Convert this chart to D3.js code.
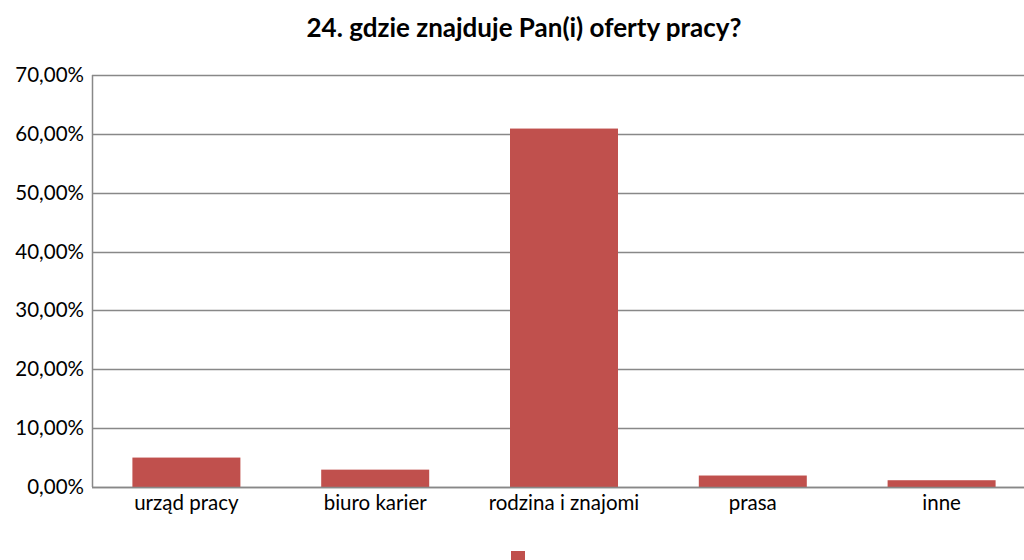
<!DOCTYPE html>
<head>
  <meta charset="utf-8">
  <script src="https://d3js.org/d3.v7.min.js"></script>
  <style>
    body { margin: 0; background: #fff; }
    text { font-family: 'Lato', 'Carlito', sans-serif; fill: #000; }
    .title { font-size: 26px; font-weight: bold; }
    .tick-label { font-size: 20.5px; }
  </style>
</head>
<body>
  <div id="chart"></div>
  <script>
    // data
    var categories = ["urząd pracy", "biuro karier", "rodzina i znajomi", "prasa", "inne"];
    var values = [5.0, 2.95, 60.9, 1.95, 1.15];
    var yTicks = [0, 10, 20, 30, 40, 50, 60, 70];
    var title = "24. gdzie znajduje Pan(i) oferty pracy?";

    var w = 1024, h = 560;
    var plotLeft = 92, plotRight = 1036, plotTop = 75, plotBottom = 487;

    var svg = d3.select("#chart")
      .append("svg")
      .attr("width", w)
      .attr("height", h);

    var x = d3.scaleBand()
      .domain(categories)
      .range([plotLeft, plotRight])
      .paddingInner(0.428)
      .paddingOuter(0.214);

    var y = d3.scaleLinear()
      .domain([0, 70])
      .range([plotBottom, plotTop]);

    // gridlines
    svg.append("g")
      .selectAll("line")
      .data(yTicks)
      .enter().append("line")
      .attr("x1", plotLeft)
      .attr("x2", plotRight)
      .attr("y1", function (d) { return Math.round(y(d)) + 0.5; })
      .attr("y2", function (d) { return Math.round(y(d)) + 0.5; })
      .attr("stroke", "#888")
      .attr("stroke-width", 1.5);

    // y axis line
    svg.append("line")
      .attr("x1", plotLeft + 0.5).attr("x2", plotLeft + 0.5)
      .attr("y1", y(70)).attr("y2", y(0))
      .attr("stroke", "#888")
      .attr("stroke-width", 1.5);

    // y tick labels
    svg.append("g")
      .selectAll("text")
      .data(yTicks)
      .enter().append("text")
      .attr("class", "tick-label")
      .attr("x", plotLeft - 8)
      .attr("y", function (d) { return y(d) + 7; })
      .attr("text-anchor", "end")
      .text(function (d) { return d.toFixed(2).replace(".", ",") + "%"; });

    // bars
    svg.append("g")
      .selectAll("rect")
      .data(values)
      .enter().append("rect")
      .attr("x", function (d, i) { return x(categories[i]); })
      .attr("width", x.bandwidth())
      .attr("y", function (d) { return y(d); })
      .attr("height", function (d) { return y(0) - y(d); })
      .attr("fill", "#c0504d");

    // baseline on top of bars
    svg.append("line")
      .attr("x1", plotLeft).attr("x2", plotRight)
      .attr("y1", Math.round(y(0)) + 0.5).attr("y2", Math.round(y(0)) + 0.5)
      .attr("stroke", "#888")
      .attr("stroke-width", 1.5);

    // category labels
    svg.append("g")
      .selectAll("text")
      .data(categories)
      .enter().append("text")
      .attr("class", "tick-label")
      .attr("x", function (d) { return x(d) + x.bandwidth() / 2; })
      .attr("y", 510)
      .attr("text-anchor", "middle")
      .text(function (d) { return d; });

    // title
    svg.append("text")
      .attr("class", "title")
      .attr("x", 524)
      .attr("y", 37)
      .attr("text-anchor", "middle")
      .text(title);

    // legend marker (cut off at the bottom)
    svg.append("rect")
      .attr("x", 511)
      .attr("y", 551)
      .attr("width", 14)
      .attr("height", 14)
      .attr("fill", "#c0504d");
  </script>
</body>
</html>
